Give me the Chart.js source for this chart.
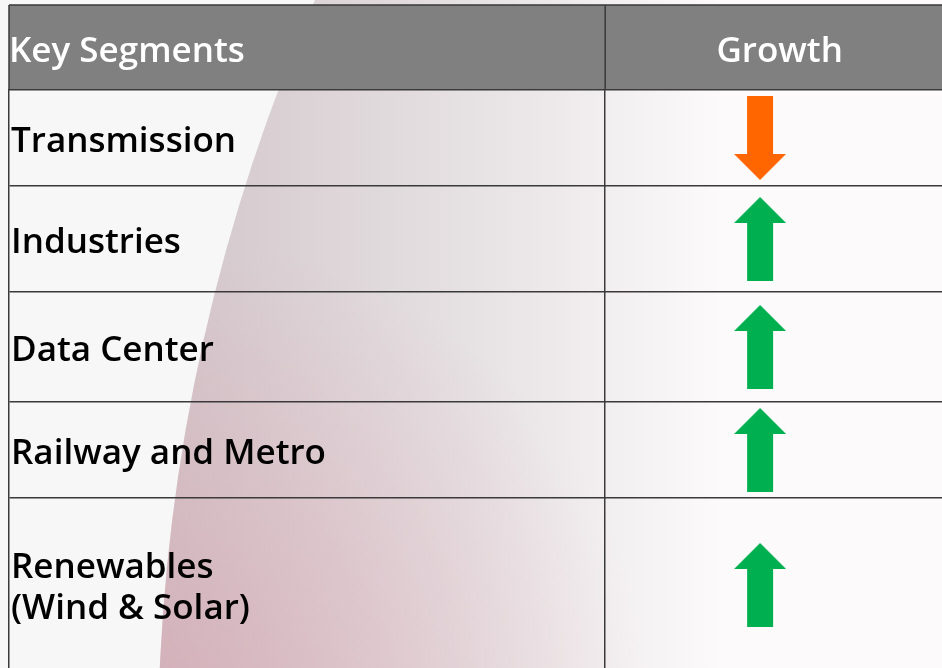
<!DOCTYPE html>
<html>
<head>
<meta charset="utf-8">
<script src="https://cdn.jsdelivr.net/npm/chart.js@4.4.1/dist/chart.umd.min.js"></script>
<style>
    html, body { margin: 0; padding: 0; background: #f7f7f7; }
    #wrap { width: 942px; height: 668px; }
</style>
</head>
<body>
<div id="wrap"><canvas id="chart"></canvas></div>
<script>
const headers = ["Key Segments", "Growth"];
const segments = [["Transmission"], ["Industries"], ["Data Center"], ["Railway and Metro"], ["Renewables", "(Wind & Solar)"]];
const growth = [-1, 1, 1, 1, 1];   // -1 = down, 1 = up

// layout: row heights in row units, column split on a 0..1 x scale
const rowHeights = [0.96, 1.06, 1.10, 0.96, 1.74];
const visibleRows = 5.78;
const colSplit = 0.639;
const headerX = 0.826;
const arrowX = 0.805;

const FONT = { family: 'Open Sans', size: 35, weight: '600' };
const LINE = '#3a3a3a';

const bounds = [0];
rowHeights.forEach(h => bounds.push(bounds[bounds.length - 1] + h));
const centers = rowHeights.map((h, i) => bounds[i] + h / 2);

function makeArrow(color) {
    const c = document.createElement('canvas');
    c.width = 52;
    c.height = 84;
    const g = c.getContext('2d');
    g.fillStyle = color;
    g.beginPath();
    g.moveTo(26, 0);
    g.lineTo(52, 26);
    g.lineTo(39, 26);
    g.lineTo(39, 84);
    g.lineTo(13, 84);
    g.lineTo(13, 26);
    g.lineTo(0, 26);
    g.closePath();
    g.fill();
    return c;
}
const upArrow = makeArrow('#00b050');
const downArrow = makeArrow('#ff6600');

// drop the automatic label padding so the table fills the canvas
function noPad(s) {
    s.paddingLeft = s.paddingRight = s.paddingTop = s.paddingBottom = 0;
}

const backdrop = {
    id: 'backdrop',
    beforeDraw(chart) {
        const ctx = chart.ctx;
        const w = chart.width, h = chart.height;
        ctx.save();
        ctx.fillStyle = '#f7f7f7';
        ctx.fillRect(0, 0, w, h);
        ctx.beginPath();
        ctx.arc(2028, 750, 1870, 0, Math.PI * 2);
        ctx.clip();
        const g = ctx.createLinearGradient(160, 0, 720, 0);
        g.addColorStop(0, '#d2c6ca');
        g.addColorStop(0.55, '#e6e1e3');
        g.addColorStop(1, '#fcfafa');
        ctx.fillStyle = g;
        ctx.fillRect(0, 0, w, h);
        const p = ctx.createRadialGradient(170, 720, 20, 170, 720, 480);
        p.addColorStop(0, 'rgba(215,150,165,0.45)');
        p.addColorStop(1, 'rgba(215,150,165,0)');
        ctx.fillStyle = p;
        ctx.fillRect(0, 0, w, h);
        ctx.restore();
    },
    afterDraw(chart) {
        // frame lines of the header band
        const ctx = chart.ctx;
        const x = chart.scales.x;
        const left = x.getPixelForValue(0);
        const split = x.getPixelForValue(colSplit);
        ctx.save();
        ctx.strokeStyle = LINE;
        ctx.lineWidth = 1.5;
        ctx.beginPath();
        ctx.moveTo(left, x.top);
        ctx.lineTo(x.right, x.top);
        ctx.moveTo(left, x.top);
        ctx.lineTo(left, x.bottom);
        ctx.moveTo(split, x.top);
        ctx.lineTo(split, x.bottom);
        ctx.stroke();
        ctx.restore();
    }
};

new Chart(document.getElementById('chart'), {
    type: 'scatter',
    data: {
        datasets: [{
            data: growth.map((g, i) => ({ x: arrowX, y: centers[i] })),
            pointStyle: growth.map(g => g > 0 ? upArrow : downArrow),
            rotation: growth.map(g => g > 0 ? 0 : 180),
            pointRadius: 1,
            pointHoverRadius: 1
        }]
    },
    options: {
        responsive: true,
        maintainAspectRatio: false,
        animation: false,
        layout: { autoPadding: false, padding: { left: 9, top: 5, right: 0, bottom: 0 } },
        plugins: { legend: { display: false }, tooltip: { enabled: false } },
        scales: {
            x: {
                type: 'linear',
                position: 'top',
                min: 0,
                max: 1,
                backgroundColor: '#808080',
                afterBuildTicks: s => { s.ticks = [0, headerX, 1].map(v => ({ value: v })); },
                afterFit: s => { s.height = 85; noPad(s); },
                ticks: {
                    align: 'inner',
                    autoSkip: false,
                    maxRotation: 0,
                    padding: 9,
                    color: '#ffffff',
                    font: FONT,
                    callback: (v, i) => [headers[0], headers[1], ''][i]
                },
                grid: { display: false },
                border: { display: true, color: LINE, width: 1.5 }
            },
            xGrid: {
                type: 'linear',
                position: 'bottom',
                min: 0,
                max: 1,
                afterBuildTicks: s => { s.ticks = [{ value: colSplit }]; },
                afterFit: s => { s.height = 0; noPad(s); },
                ticks: { display: false },
                grid: { color: LINE, lineWidth: 1.5, drawTicks: false },
                border: { display: false }
            },
            y: {
                type: 'linear',
                position: 'left',
                reverse: true,
                min: 0,
                max: visibleRows,
                afterBuildTicks: s => { s.ticks = centers.map(v => ({ value: v })); },
                afterFit: s => { s.width = 0; noPad(s); },
                ticks: {
                    mirror: true,
                    padding: 2,
                    labelOffset: 4,
                    autoSkip: false,
                    color: '#000000',
                    font: { ...FONT, lineHeight: 1.17 },
                    callback: (v, i) => segments[i]
                },
                grid: { display: false },
                border: { display: false }
            },
            yGrid: {
                type: 'linear',
                position: 'left',
                reverse: true,
                min: 0,
                max: visibleRows,
                afterBuildTicks: s => { s.ticks = bounds.slice(1, -1).map(v => ({ value: v })); },
                afterFit: s => { s.width = 0; noPad(s); },
                ticks: { display: false },
                grid: { color: LINE, lineWidth: 1.5, drawTicks: false },
                border: { display: true, color: LINE, width: 1.5 }
            }
        }
    },
    plugins: [backdrop]
});
</script>
</body>
</html>
